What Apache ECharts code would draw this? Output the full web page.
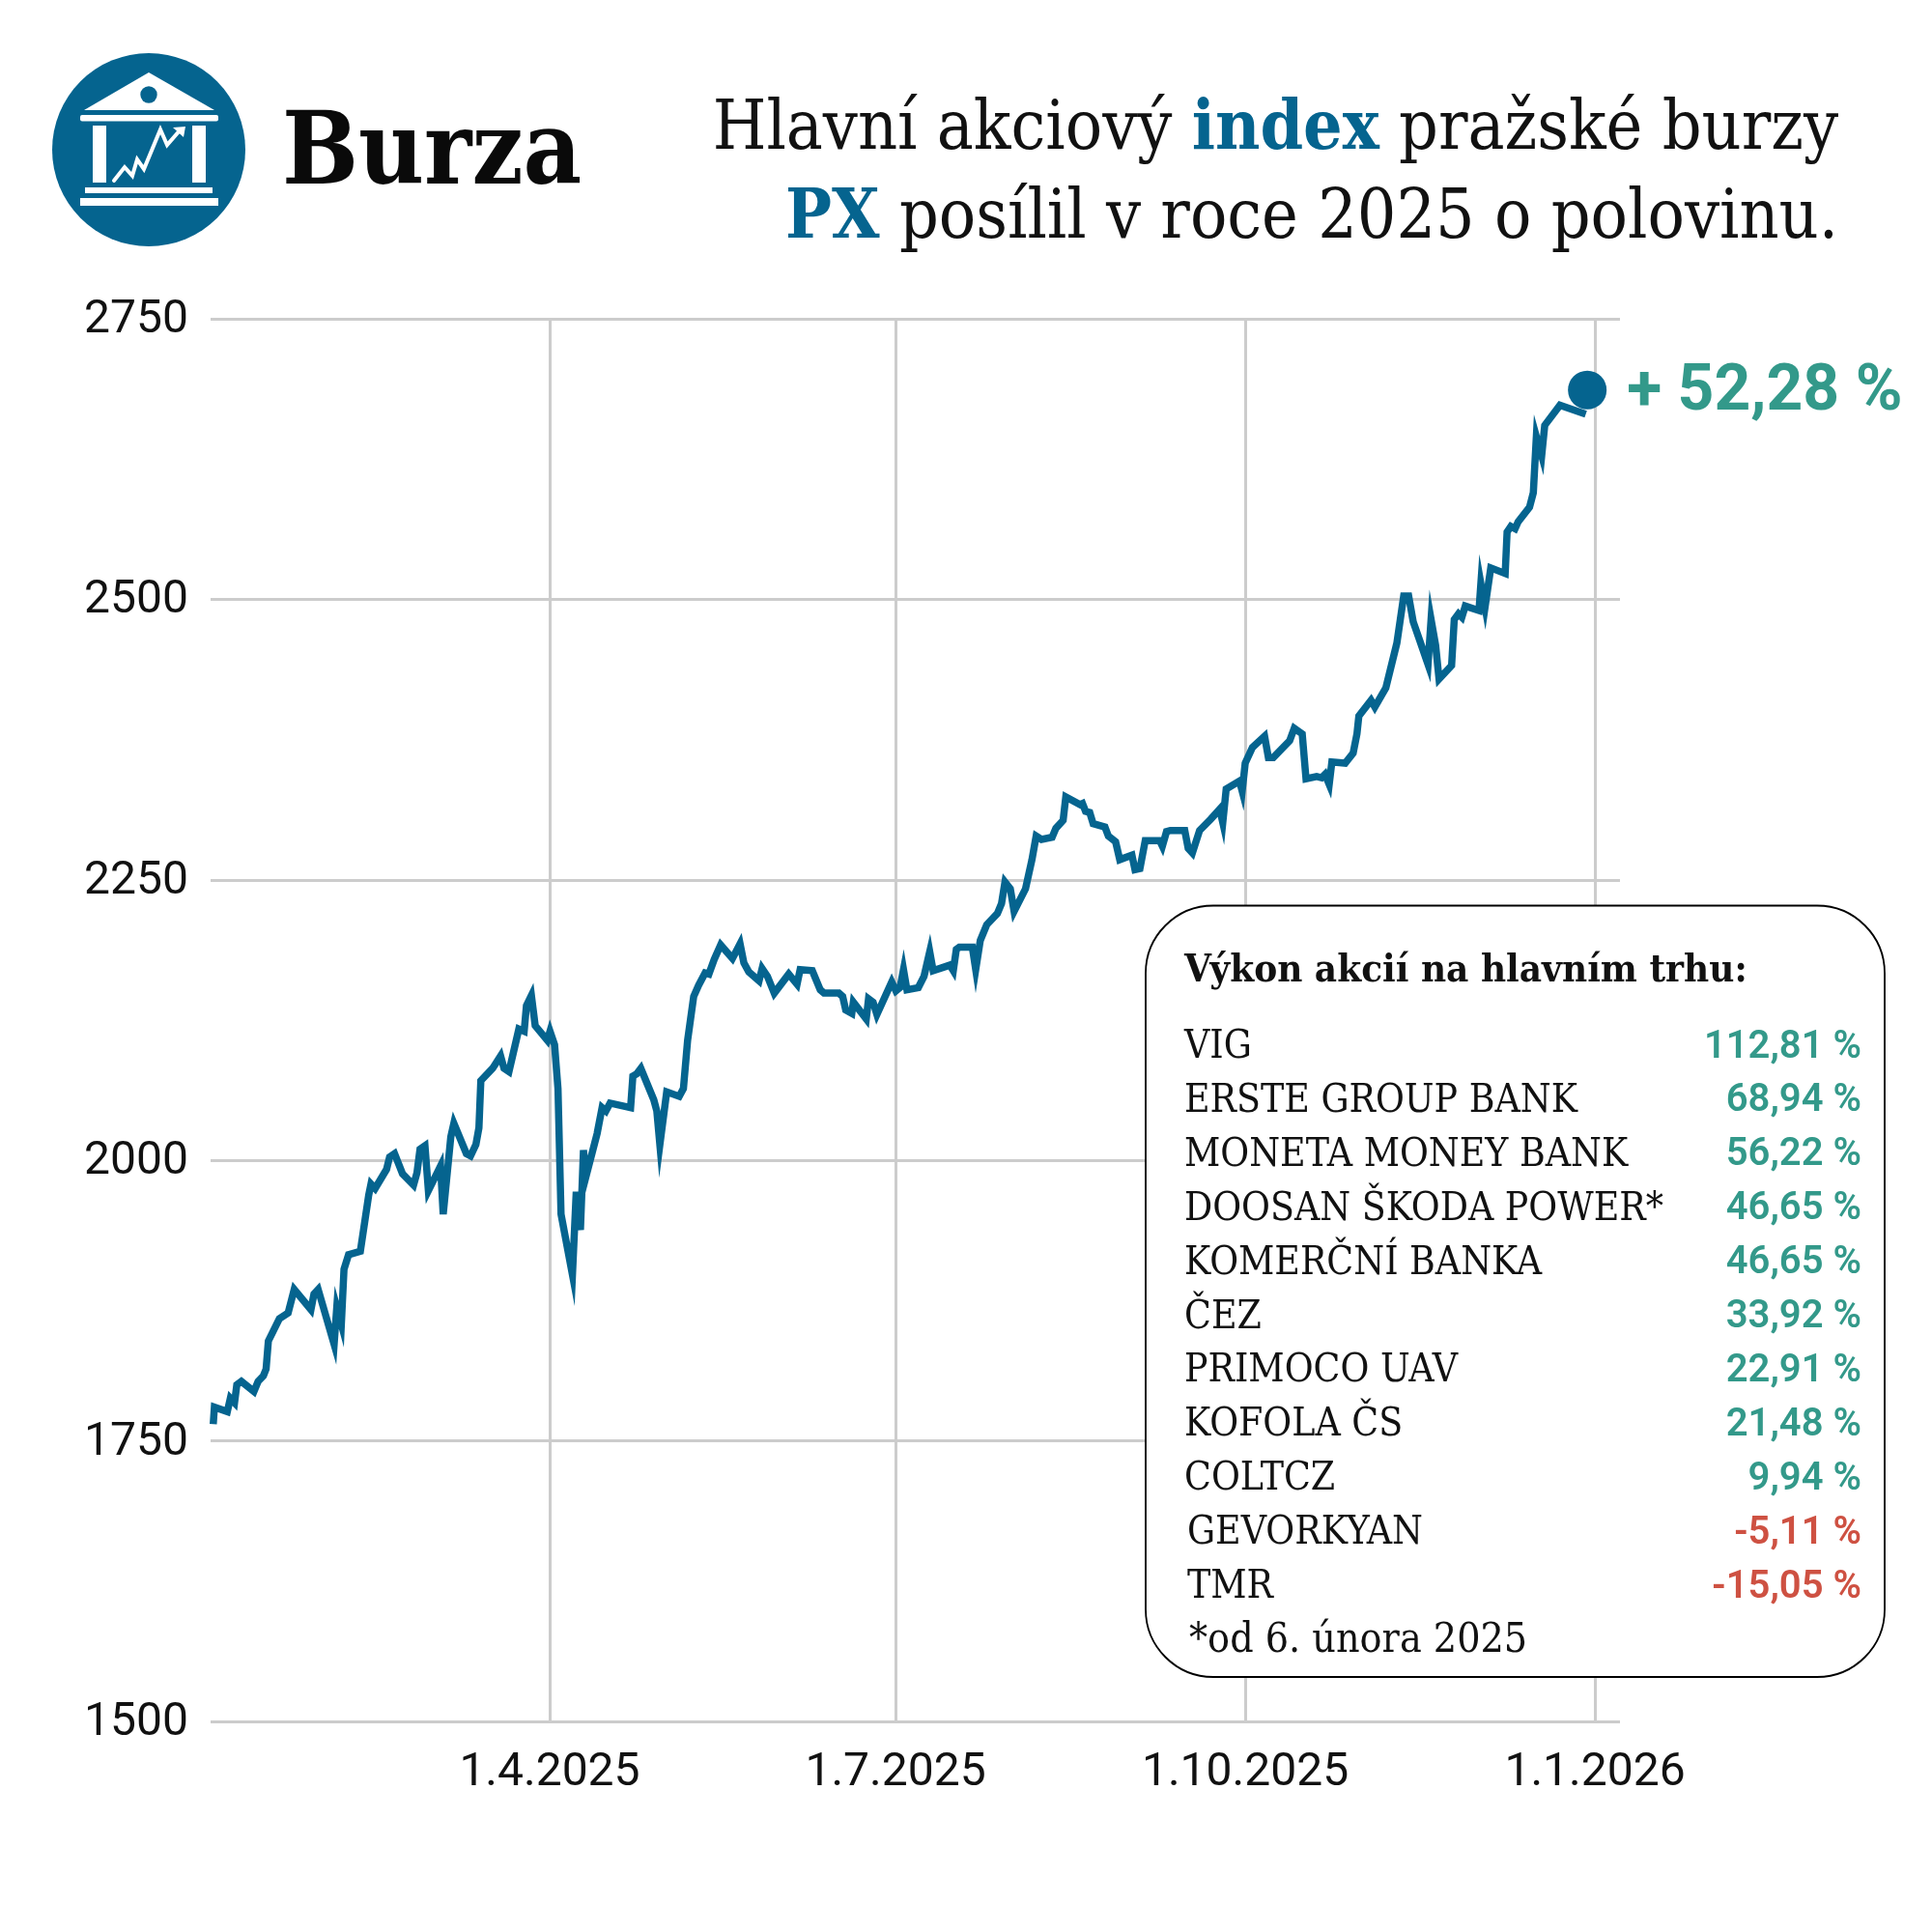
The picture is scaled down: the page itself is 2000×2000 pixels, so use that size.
<!DOCTYPE html>
<html><head><meta charset="utf-8">
<script src="https://cdn.jsdelivr.net/npm/echarts@6/dist/echarts.min.js"></script>
<style>html,body{margin:0;padding:0;background:#fff}#c{width:2000px;height:2000px}</style>
</head><body><div id="c"></div>
<script>
// days counted from 1.1.2025
const dayNumbers = [1.5,1.8,5.2,6.0,7.1,7.7,8.9,12.2,13.3,14.7,15.4,16.0,18.9,21.2,22.8,27.2,28.0,29.1,33.3,34.0,35.2,35.9,37.1,40.2,42.4,43.0,44.1,47.1,47.9,49.2,51.3,54.2,55.1,55.9,57.2,58.1,61.3,62.0,64.0,64.8,68.1,69.2,70.6,71.4,71.9,75.0,77.1,78.0,79.3,81.9,83.3,83.9,85.2,86.2,89.4,90.1,91.3,92.2,93.0,96.0,97.0,98.1,98.9,99.6,102.5,103.8,104.8,105.9,111.3,111.9,112.9,114.0,117.4,118.2,119.0,120.8,124.1,125.2,126.3,127.9,129.2,130.9,131.9,133.3,135.0,138.1,140.1,141.1,142.4,145.1,145.9,147.3,149.1,152.9,155.1,155.9,159.1,161.2,162.2,166.1,167.1,167.9,169.5,169.9,173.3,173.9,175.1,176.1,180.0,181.1,182.2,183.1,184.0,187.0,188.5,190.0,190.9,195.3,196.2,197.0,197.8,201.2,202.1,203.3,205.0,207.8,208.9,209.8,211.2,212.2,215.2,216.9,218.0,219.4,222.2,223.2,225.1,225.8,229.6,230.2,231.0,232.1,233.0,236.1,237.0,238.9,240.0,243.2,244.0,245.3,246.7,250.5,251.2,252.3,253.3,257.1,258.0,259.1,261.0,263.9,266.3,267.1,268.0,271.5,272.2,273.0,274.9,278.1,279.1,280.4,284.7,285.9,288.0,289.0,291.8,293.1,294.0,295.1,295.8,299.3,301.4,302.4,302.9,306.1,307.1,310.0,312.9,314.7,316.0,317.2,321.1,321.9,323.1,324.0,327.3,328.0,329.1,330.0,330.9,334.5,335.0,336.1,337.6,341.4,341.9,342.9,344.0,344.8,347.8,348.8,349.6,351.0,351.8,355.8,362.6];
const pxValues = [1765,1780,1776,1788,1784,1800,1803,1794,1803,1808,1814,1839,1859,1864,1885,1867,1881,1885,1836,1869,1854,1903,1916,1919,1969,1979,1975,1992,2003,2006,1988,1978,1989,2010,2013,1973,1995,1952,2021,2033,2006,2004,2014,2029,2071,2082,2093,2082,2079,2117,2115,2138,2147,2120,2107,2115,2103,2064,1952,1898,1972,1938,2009,1986,2024,2047,2044,2051,2047,2075,2077,2082,2054,2044,2014,2061,2057,2064,2107,2146,2156,2167,2166,2179,2192,2180,2193,2176,2168,2160,2171,2164,2149,2166,2157,2170,2169,2152,2149,2149,2146,2134,2131,2141,2126,2144,2141,2130,2159,2151,2154,2170,2152,2154,2164,2186,2169,2174,2169,2188,2190,2190,2170,2196,2210,2220,2229,2248,2242,2222,2242,2268,2289,2286,2288,2296,2303,2324,2317,2318,2311,2310,2300,2297,2289,2284,2268,2272,2259,2260,2285,2285,2280,2293,2294,2294,2278,2274,2294,2304,2313,2301,2331,2338,2329,2354,2368,2378,2359,2359,2374,2385,2380,2340,2342,2341,2344,2335,2355,2354,2363,2380,2396,2410,2404,2421,2461,2503,2503,2480,2442,2482,2459,2429,2441,2482,2487,2484,2494,2490,2514,2493,2528,2523,2560,2565,2563,2569,2582,2595,2645,2628,2655,2673,2665];
const lastDay = 363.0;
const lastValue = 2686.5;
const lastLabel = '+ 52,28 %';

const xTickDays = [90,181,273,365];
const xTickLabels = ['1.4.2025','1.7.2025','1.10.2025','1.1.2026'];
const xMinDay = 0.8, xMaxDay = 371.6;
const yMin = 1500, yMax = 2750, yStep = 250;

const stockNames = ['VIG','ERSTE GROUP BANK','MONETA MONEY BANK','DOOSAN ŠKODA POWER*','KOMERČNÍ BANKA','ČEZ','PRIMOCO UAV','KOFOLA ČS','COLTCZ','GEVORKYAN','TMR'];
const stockReturns = ['112,81 %','68,94 %','56,22 %','46,65 %','46,65 %','33,92 %','22,91 %','21,48 %','9,94 %','-5,11 %','-15,05 %'];
const panelTitle = 'Výkon akcií na hlavním trhu:';
const panelNote = '*od 6. února 2025';

const BLUE = '#05648F', GREEN = '#33998A', RED = '#CE5142', GRID = '#CCCCCC';
const SERIF = '"DejaVu Serif Condensed", "Liberation Serif", serif', SANS = 'Roboto, sans-serif';

const seriesData = dayNumbers.map((d,i) => [d, pxValues[i]]);

// header logo
const logo = {
  type:'group', silent:true, children:[
    {type:'circle', shape:{cx:154,cy:155,r:100}, style:{fill:BLUE}},
    {type:'polygon', shape:{points:[[154,75],[222,114],[87,114]]}, style:{fill:'#fff'}},
    {type:'circle', shape:{cx:154,cy:98,r:8.7}, style:{fill:BLUE}},
    {type:'rect', shape:{x:83,y:119,width:143,height:6.5,r:2}, style:{fill:'#fff'}},
    {type:'rect', shape:{x:96,y:130,width:14,height:59}, style:{fill:'#fff'}},
    {type:'rect', shape:{x:199,y:130,width:14,height:59}, style:{fill:'#fff'}},
    {type:'rect', shape:{x:88,y:194,width:132,height:6}, style:{fill:'#fff'}},
    {type:'rect', shape:{x:83,y:205,width:143,height:8}, style:{fill:'#fff'}},
    {type:'polyline', shape:{points:[[118,187],[129,173],[137,182],[142,165],[149,175],[166,134],[173,150],[187,134]]},
      style:{stroke:'#fff',lineWidth:4,fill:null,lineCap:'round',lineJoin:'miter'}},
    {type:'polygon', shape:{points:[[179,132],[192,131],[190,142]]}, style:{fill:'#fff'}}
  ]
};

// stock panel
const PX=1186, PY=937.5, PW=765, PH=798.5;
const panel = [
  {type:'rect', z:20, shape:{x:PX,y:PY,width:PW,height:PH,r:70}, style:{fill:'#fff',stroke:'#000',lineWidth:1.8}},
  {type:'text', z:21, x:1226, y:1006, style:{text:panelTitle,font:'bold 40px '+SERIF,fill:'#111',verticalAlign:'middle'}}
];
const rowY = i => 1084.5 + i*55.9;
stockNames.forEach((n,i)=>{
  panel.push({type:'text', z:21, x:i>=9?1229:1226, y:rowY(i), style:{text:n,font:'40.5px '+SERIF,fill:'#111',verticalAlign:'middle'}});
  const neg = stockReturns[i].startsWith('-');
  panel.push({type:'text', z:21, x:1927, y:rowY(i), style:{text:stockReturns[i],font:'600 40px '+SANS,fill:neg?RED:GREEN,align:'right',verticalAlign:'middle'}});
});
panel.push({type:'text', z:21, x:1231, y:rowY(11), style:{text:panelNote,font:'42.5px '+SERIF,fill:'#111',verticalAlign:'middle'}});

const chart = echarts.init(document.getElementById('c'), null, {renderer:'canvas', width:2000, height:2000});
chart.setOption({
  animation:false,
  backgroundColor:'#fff',
  title:[
    {text:'{k|Hlavní akciový }{b|index}{k| pražské burzy}\n{b|PX}{k| posílil v roce 2025 o polovinu.}',
     left:1898, top:85, textAlign:'right',
     textStyle:{fontWeight:'normal', rich:{
       k:{fontFamily:SERIF,fontSize:71,fontWeight:'normal',color:'#111',lineHeight:92},
       b:{fontFamily:SERIF,fontSize:71,fontWeight:'bold',color:BLUE,lineHeight:92}
     }}},
    {text:'Burza', left:287, top:106, textStyle:{fontFamily:SERIF,fontSize:104,fontWeight:'bold',color:'#0a0a0a'}}
  ],
  grid:{left:218, top:330, width:1459, height:1452, containLabel:false},
  xAxis:{
    type:'value', min:xMinDay, max:xMaxDay,
    axisLine:{show:false},
    axisTick:{show:false, customValues:xTickDays},
    splitLine:{show:true, lineStyle:{color:GRID,width:3}},
    axisLabel:{
      customValues:xTickDays, margin:30, color:'#111', fontFamily:SANS, fontSize:48,
      hideOverlap:false,
      formatter:v => xTickLabels[xTickDays.indexOf(v)]
    }
  },
  yAxis:{
    type:'value', min:yMin, max:yMax, interval:yStep,
    axisLine:{show:false}, axisTick:{show:false},
    splitLine:{show:true, lineStyle:{color:GRID,width:3}},
    axisLabel:{margin:23, color:'#111', fontFamily:SANS, fontSize:48, verticalAlign:'top', lineHeight:4, formatter:v => String(v)}
  },
  series:[
    {type:'line', data:seriesData, showSymbol:false, symbol:'none', smooth:false, sampling:null, clip:false, z:5,
     lineStyle:{color:BLUE,width:7.5,join:'miter',miterLimit:10,cap:'butt'}},
    {type:'scatter', data:[[lastDay,lastValue]], symbol:'circle', symbolSize:40, clip:false, z:6,
     itemStyle:{color:BLUE,opacity:1},
     label:{show:true, position:'right', distance:21, offset:[0,4], formatter:lastLabel, color:GREEN, fontFamily:SANS, fontWeight:'bold', fontSize:66}}
  ],
  graphic:[logo].concat(panel)
});
</script></body></html>
